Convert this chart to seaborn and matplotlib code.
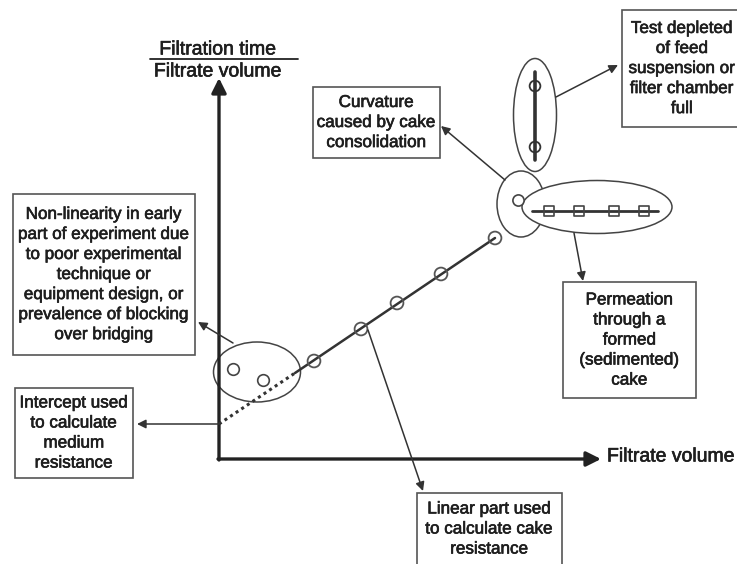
import matplotlib
matplotlib.use("Agg")
import matplotlib.pyplot as plt
from matplotlib.patches import Ellipse, Rectangle
import matplotlib.patheffects as pe
import seaborn as sns

# ---- data (filtrate volume V, t/V) in arbitrary units ----
early_V = [1.4, 4.4]
early_y = [9.0, 7.9]
linear_V = [9.5, 14.2, 17.8, 22.2, 27.6]
linear_y = [9.8, 13.0, 15.6, 18.5, 22.1]
dotted_V = [0.0, 7.6]
dotted_y = [3.5, 8.6]
solid_V = [7.6, 27.6]
solid_y = [8.6, 22.1]
curv_V = [29.9]
curv_y = [25.9]
full_V = [31.6, 31.6]
full_y = [37.3, 31.2]
full_line_y = [38.7, 29.9]
perm_V = [33.0, 36.0, 39.5, 42.5]
perm_y = [24.8, 24.8, 24.8, 24.8]
perm_line_V = [31.3, 43.9]

ylabel_top = "Filtration time"
ylabel_bottom = "Filtrate volume"
xlabel = "Filtrate volume"
notes = {
    "test": "Test depleted\nof feed\nsuspension or\nfilter chamber\nfull",
    "curv": "Curvature\ncaused by cake\nconsolidation",
    "nonlin": "Non-linearity in early\npart of experiment due\nto poor experimental\ntechnique or\nequipment design, or\nprevalence of blocking\nover bridging",
    "inter": "Intercept used\nto calculate\nmedium\nresistance",
    "linear": "Linear part used\nto calculate cake\nresistance",
    "perm": "Permeation\nthrough a\nformed\n(sedimented)\ncake",
}

sns.set_theme(style="white")
plt.rcParams['font.family'] = ['Liberation Sans', 'DejaVu Sans']

fig = plt.figure(figsize=(7.37, 5.64), dpi=100)
ax = fig.add_axes([0, 0, 1, 1])
ax.set_xlim(-21.9, 51.8)
ax.set_ylim(-10.5, 45.9)
ax.axis("off")

tc = "#1e1e1e"
ec = "#444444"
thick = [pe.withStroke(linewidth=0.45, foreground=tc)]

# axes arrows
ax.annotate("", xy=(0, 38.1), xytext=(0, -0.1),
            arrowprops=dict(arrowstyle="-|>", lw=2.4, color="#222", mutation_scale=22,
                            shrinkA=0, shrinkB=0))
ax.annotate("", xy=(38.2, 0), xytext=(-0.1, 0),
            arrowprops=dict(arrowstyle="-|>", lw=2.4, color="#222", mutation_scale=22,
                            shrinkA=0, shrinkB=0))
ax.text(38.8, 0.2, xlabel, fontsize=14, color=tc, ha="left", va="center", path_effects=thick)
ax.text(-0.1, 40.9, ylabel_top, fontsize=14, color=tc, ha="center", va="center", path_effects=thick)
ax.plot([-6.9, 7.9], [40.0, 40.0], color="#222", lw=1.3)
ax.text(-0.1, 38.7, ylabel_bottom, fontsize=14, color=tc, ha="center", va="center", path_effects=thick)

# ellipses
ax.add_patch(Ellipse((3.8, 8.7), 8.7, 6.0, fc="none", ec=ec, lw=1.1, zorder=2))
ax.add_patch(Ellipse((30.2, 25.5), 4.8, 6.6, fc="white", ec=ec, lw=1.1, zorder=2))
ax.add_patch(Ellipse((37.8, 25.2), 15.0, 5.3, fc="white", ec=ec, lw=1.1, zorder=3))
ax.add_patch(Ellipse((31.6, 34.4), 4.3, 11.3, fc="white", ec=ec, lw=1.1, zorder=2))

# lines
sns.lineplot(x=dotted_V, y=dotted_y, ax=ax, color="#333", lw=2.2, linestyle=(0, (1, 1.2)), zorder=4)
sns.lineplot(x=solid_V, y=solid_y, ax=ax, color="#333", lw=1.8, zorder=4)
sns.lineplot(x=full_V, y=full_line_y, ax=ax, color="#333", lw=2.6, zorder=4,
             estimator=None, sort=False)
sns.lineplot(x=perm_line_V, y=[perm_y[0]] * 2, ax=ax, color="#333", lw=2.0, zorder=4)

# points
sns.scatterplot(x=early_V, y=early_y, ax=ax, marker="o", s=70, color="white",
                edgecolor="#444", linewidth=1.2, zorder=5)
sns.scatterplot(x=linear_V, y=linear_y, ax=ax, marker="o", s=85, color="none",
                edgecolor="#555", linewidth=1.3, zorder=5)
sns.scatterplot(x=curv_V, y=curv_y, ax=ax, marker="o", s=65, color="white",
                edgecolor="#444", linewidth=1.2, zorder=5)
sns.scatterplot(x=full_V, y=full_y, ax=ax, marker="o", s=60, color="none",
                edgecolor="#333", linewidth=1.3, zorder=5)
sns.scatterplot(x=perm_V, y=perm_y, ax=ax, marker="s", s=45, color="none",
                edgecolor="#444", linewidth=1.2, zorder=5)

# boxes (x0, y0, x1, y1) and text
boxes = {
    "test": (40.3, 33.2, 52.3, 44.9),
    "curv": (9.4, 30.1, 22.1, 37.2),
    "nonlin": (-20.6, 10.4, -2.4, 26.5),
    "inter": (-20.4, -1.9, -8.6, 7.1),
    "linear": (19.8, -10.6, 34.3, -3.4),
    "perm": (34.4, 6.1, 47.7, 17.7),
}
for key, (x0, y0, x1, y1) in boxes.items():
    ax.add_patch(Rectangle((x0, y0), x1 - x0, y1 - y0, fc="white", ec="#555", lw=1.2, zorder=3))
    ax.text((x0 + x1) / 2, (y0 + y1) / 2, notes[key], fontsize=12.3, color=tc,
            ha="center", va="center", multialignment="center", linespacing=1.42,
            zorder=4, path_effects=thick)

# annotation arrows (from, to)
arrows = [
    ((33.7, 36.2), (39.9, 39.4)),
    ((28.6, 27.9), (22.2, 33.3)),
    ((1.4, 11.6), (-2.1, 13.7)),
    ((0.0, 3.5), (-8.2, 3.5)),
    ((14.9, 12.9), (20.4, -3.2)),
    ((35.5, 22.6), (36.4, 17.8)),
]
for (x0, y0), (x1, y1) in arrows:
    ax.annotate("", xy=(x1, y1), xytext=(x0, y0),
                arrowprops=dict(arrowstyle="-|>", lw=1.1, color="#333", mutation_scale=13,
                                shrinkA=0, shrinkB=0), zorder=6)

fig.savefig("out.png", dpi=100, facecolor="white")
